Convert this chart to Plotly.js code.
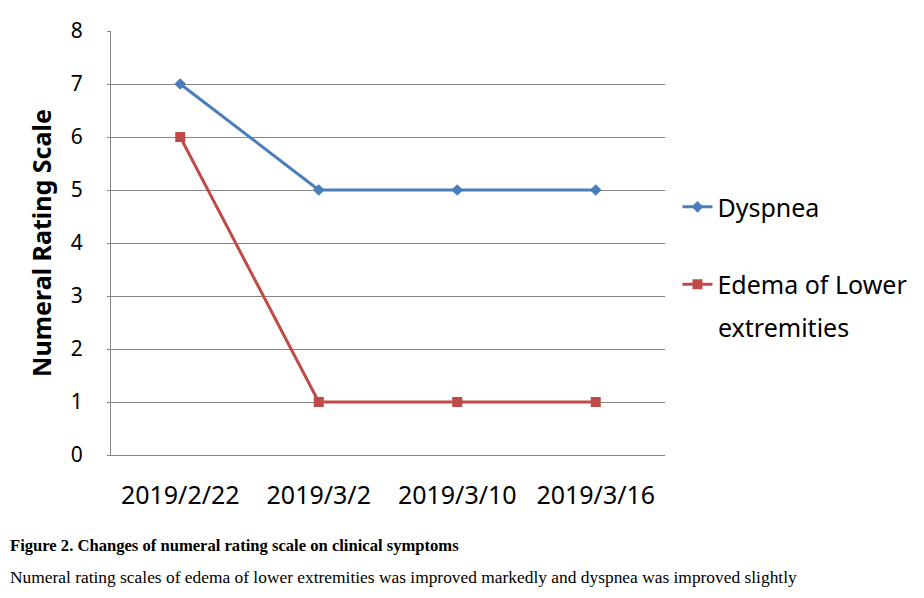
<!DOCTYPE html>
<html>
<head>
<meta charset="utf-8">
<script src="https://cdn.plot.ly/plotly-3.0.1.min.js"></script>
<style>html,body{margin:0;padding:0;background:#fff;}#chart{width:924px;height:598px;}</style>
</head>
<body>
<div id="chart"></div>
<script>
var dates = ["2019/2/22", "2019/3/2", "2019/3/10", "2019/3/16"];
var dyspnea = [7, 5, 5, 5];
var edema = [6, 1, 1, 1];
var yTicks = [0, 1, 2, 3, 4, 5, 6, 7, 8];

var font = "Noto Sans, Open Sans, sans-serif";
var serif = "Liberation Serif";
var traces = [
  {x: dates, y: dyspnea, type: "scatter", mode: "lines+markers", name: "Dyspnea",
   line: {color: "#4a7ebb", width: 3}, marker: {symbol: "diamond", size: 9, color: "#4a7ebb"},
   legendgroup: "a"},
  {x: dates, y: edema, type: "scatter", mode: "lines+markers", name: "Edema of Lower",
   line: {color: "#be4b48", width: 3}, marker: {symbol: "square", size: 10, color: "#be4b48"},
   legendgroup: "b"}
];
var layout = {
  width: 924, height: 598,
  margin: {l: 111, r: 257, t: 31, b: 143},
  paper_bgcolor: "#fff", plot_bgcolor: "#fff",
  font: {family: font, color: "#000"},
  xaxis: {type: "category", range: [-0.5, 3.5], showgrid: false, showline: true,
          linecolor: "#868686", linewidth: 1, ticks: "", tickfont: {size: 25}, ticklabelstandoff: 18,
          zeroline: false, fixedrange: true},
  yaxis: {range: [0, 8], tickvals: yTicks, showgrid: true, gridcolor: "#868686", gridwidth: 1,
          showline: true, linecolor: "#868686", ticks: "outside", ticklen: 3, tickcolor: "#868686",
          tickfont: {size: 21}, ticklabelstandoff: 20, zeroline: false,
          title: {text: "<b>Numeral Rating Scale</b>", font: {size: 25, family: font}, standoff: 12}},
  showlegend: true,
  legend: {x: 1.0225, y: 0.639, xanchor: "left", yanchor: "top", font: {size: 25},
           traceorder: "grouped", tracegroupgap: 42, itemwidth: 30, bgcolor: "rgba(0,0,0,0)"},
  annotations: [
    {text: "extremities", xref: "paper", yref: "paper", x: (718 - 111) / 556, y: 1 - (327 - 31) / 424,
     xanchor: "left", yanchor: "middle", showarrow: false, font: {size: 25, family: font}},
    {text: "<b>Figure 2. Changes of numeral rating scale on clinical symptoms</b>", xref: "paper", yref: "paper",
     x: -103 / 556, y: -(545 - 455) / 424, xanchor: "left", yanchor: "middle", showarrow: false,
     font: {family: serif, size: 16.6}},
    {text: "Numeral rating scales of edema of lower extremities was improved markedly and dyspnea was improved slightly",
     xref: "paper", yref: "paper", x: -103 / 556, y: -(577 - 455) / 424, xanchor: "left", yanchor: "middle", showarrow: false,
     font: {family: serif, size: 17.4}}
  ]
};
Plotly.newPlot("chart", traces, layout, {displayModeBar: false, staticPlot: true});
</script>
</body>
</html>
